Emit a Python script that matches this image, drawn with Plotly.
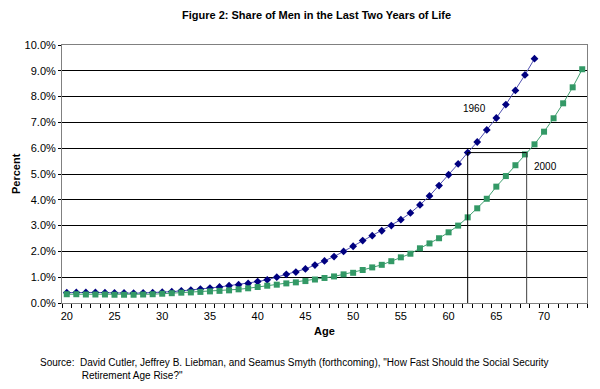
import plotly.graph_objects as go
import numpy as np

ages_1960 = list(range(20, 70))
share_1960 = [0.40, 0.41, 0.41, 0.41, 0.40, 0.39, 0.39, 0.38, 0.39, 0.40,
              0.42, 0.44, 0.47, 0.50, 0.54, 0.58, 0.62, 0.67, 0.71, 0.76,
              0.83, 0.90, 1.00, 1.11, 1.20, 1.32, 1.47, 1.63, 1.80, 2.00,
              2.20, 2.42, 2.61, 2.80, 3.00, 3.23, 3.49, 3.80, 4.15, 4.55,
              4.97, 5.39, 5.83, 6.24, 6.71, 7.17, 7.69, 8.24, 8.84, 9.47]

ages_2000 = list(range(20, 75))
share_2000 = [0.34, 0.34, 0.33, 0.33, 0.33, 0.32, 0.32, 0.32, 0.33, 0.34,
              0.36, 0.38, 0.40, 0.41, 0.43, 0.45, 0.47, 0.49, 0.53, 0.57,
              0.62, 0.67, 0.71, 0.76, 0.80, 0.85, 0.91, 0.97, 1.03, 1.11,
              1.17, 1.28, 1.38, 1.48, 1.62, 1.77, 1.91, 2.12, 2.31, 2.51,
              2.74, 3.00, 3.32, 3.67, 4.04, 4.51, 4.92, 5.34, 5.76, 6.15,
              6.64, 7.16, 7.74, 8.36, 9.06]

x_ticks = [20, 25, 30, 35, 40, 45, 50, 55, 60, 65, 70]
y_ticks = [0, 1, 2, 3, 4, 5, 6, 7, 8, 9, 10]
y_tick_labels = [f"{v:.1f}%" for v in y_ticks]

ref_age = 62
font = "Liberation Sans, Arial, sans-serif"

fig = go.Figure()
fig.add_trace(go.Scatter(
    x=ages_1960, y=share_1960, mode="lines+markers", name="1960",
    line=dict(color="#5050b0", width=1),
    marker=dict(symbol="diamond", size=6, color="#000080"),
))
fig.add_trace(go.Scatter(
    x=ages_2000, y=share_2000, mode="lines+markers", name="2000",
    line=dict(color="#40a070", width=1),
    marker=dict(symbol="square", size=6, color="#339966"),
))

# reference lines derived from data
level = share_1960[ages_1960.index(ref_age)]
cross_age = float(np.interp(level, share_2000, ages_2000))
fig.add_shape(type="line", x0=ref_age, x1=ref_age, y0=0, y1=level,
              line=dict(color="black", width=1))
fig.add_shape(type="line", x0=ref_age, x1=cross_age, y0=level, y1=level,
              line=dict(color="black", width=1))
fig.add_shape(type="line", x0=cross_age, x1=cross_age, y0=0, y1=level,
              line=dict(color="#404040", width=1))

fig.add_annotation(x=62.7, y=7.52, text="1960", showarrow=False,
                   font=dict(family=font, size=10, color="black"))
fig.add_annotation(x=70.2, y=5.3, text="2000", showarrow=False,
                   font=dict(family=font, size=10, color="black"))

fig.add_annotation(xref="paper", yref="paper", x=0.485, y=1.0, yshift=30,
                   text="<b>Figure 2: Share of Men in the Last Two Years of Life</b>",
                   showarrow=False, xanchor="center", yanchor="middle",
                   font=dict(family=font, size=11, color="black"))

# axis titles
fig.add_annotation(xref="paper", yref="paper", x=0.5, y=0, yshift=-28,
                   text="<b>Age</b>", showarrow=False, xanchor="center",
                   yanchor="middle", font=dict(family=font, size=11))
fig.add_annotation(xref="paper", yref="paper", x=0, y=0.5, xshift=-46,
                   text="<b>Percent</b>", showarrow=False, textangle=-90,
                   xanchor="center", yanchor="middle",
                   font=dict(family=font, size=11))

fig.add_annotation(xref="paper", yref="paper", x=0, y=0, xanchor="left",
                   yanchor="top", xshift=-24, yshift=-52, align="left",
                   text='Source:  David Cutler, Jeffrey B. Liebman, and Seamus Smyth (forthcoming), "How Fast Should the Social Security<br>'
                        '&nbsp;&nbsp;&nbsp;&nbsp;&nbsp;&nbsp;&nbsp;&nbsp;&nbsp;&nbsp;&nbsp;&nbsp;&nbsp;&nbsp;&nbsp;Retirement Age Rise?"',
                   showarrow=False,
                   font=dict(family=font, size=10, color="black"))

# the page body adds an 8px offset; margins compensate so the plot sits where the reference has it
fig.update_layout(
    width=600, height=389,
    margin=dict(l=54, r=21, t=37, b=94),
    paper_bgcolor="white", plot_bgcolor="white",
    showlegend=False,
    font=dict(family=font, size=11, color="black"),
)
fig.update_xaxes(
    automargin=False,
    range=[19.5, 74.5], tickmode="array", tickvals=x_ticks,
    ticks="", showgrid=False, zeroline=False,
    showline=True, linecolor="#808080", linewidth=1, mirror=True,
    ticklabelstandoff=3,
    minor=dict(ticks="outside", tickmode="array",
               tickvals=[a + 0.5 for a in range(19, 75)],
               ticklen=4, tickcolor="black", showgrid=False),
    tickfont=dict(family=font, size=11),
)
fig.update_yaxes(
    automargin=False,
    range=[0, 10], tickmode="array", tickvals=y_ticks, ticktext=y_tick_labels,
    ticks="outside", ticklen=3, tickcolor="black",
    showgrid=True, gridcolor="black", gridwidth=1, zeroline=False,
    showline=True, linecolor="#808080", linewidth=1, mirror=True,
    tickfont=dict(family=font, size=11),
)

fig.write_html("out.html")
